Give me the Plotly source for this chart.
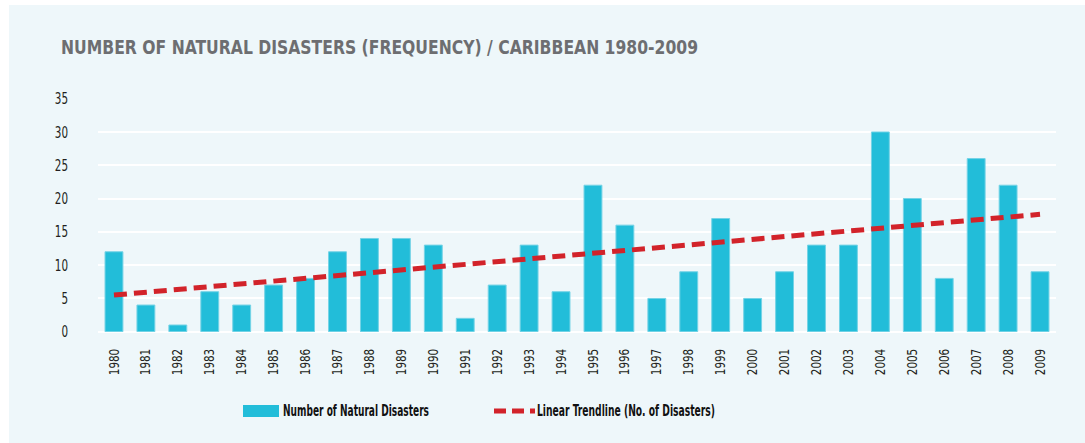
import numpy as np
import plotly.graph_objects as go

# Annual count of natural disasters in the Caribbean
years = [str(y) for y in range(1980, 2010)]
disasters = [12, 4, 1, 6, 4, 7, 8, 12, 14, 14,
             13, 2, 7, 13, 6, 22, 16, 5, 9, 17,
             5, 9, 13, 13, 30, 20, 8, 26, 22, 9]
y_ticks = [0, 5, 10, 15, 20, 25, 30, 35]

title_text = "NUMBER OF NATURAL DISASTERS (FREQUENCY) / CARIBBEAN 1980-2009"
bar_name = "Number of Natural Disasters"
trend_name = "Linear Trendline (No. of Disasters)"

# Least-squares linear trend over the series
idx = np.arange(len(disasters))
slope, intercept = np.polyfit(idx, disasters, 1)
trend = intercept + slope * idx

BAR = "#22bdd9"
RED = "#d2232a"
PANEL = "#eef7fa"
FONT = "DejaVu Sans Condensed, Liberation Sans Narrow, sans-serif"

W, H = 1085, 443
ML, MR, MT, MB = 98, 29, 98, 111
PW, PH = W - ML - MR, H - MT - MB


def px(x):
    return (x - ML) / PW


def py(y):
    return (H - MB - y) / PH


fig = go.Figure()
fig.add_trace(go.Bar(
    x=years, y=disasters, name=bar_name,
    marker=dict(color=BAR, line=dict(color="#74d3e6", width=1)),
    width=0.56, showlegend=False,
))
fig.add_trace(go.Scatter(
    x=years, y=trend, name=trend_name, mode="lines",
    line=dict(color=RED, width=5, dash="13px,7px"),
    showlegend=False,
))

shapes = [
    # panel background
    dict(type="rect", xref="paper", yref="paper", layer="below",
         x0=px(9), x1=px(W + 5), y0=py(H + 5), y1=py(5),
         fillcolor=PANEL, line=dict(width=0)),
    # legend swatch for bars
    dict(type="rect", xref="paper", yref="paper",
         x0=px(243), x1=px(279), y0=py(417), y1=py(405),
         fillcolor=BAR, line=dict(width=0)),
    # legend swatch for trendline
    dict(type="line", xref="paper", yref="paper",
         x0=px(494), x1=px(535), y0=py(411), y1=py(411),
         line=dict(color=RED, width=5, dash="12px,6px")),
]

annotations = [
    dict(text=title_text, xref="paper", yref="paper",
         x=px(59), y=py(47), xanchor="left", yanchor="middle", align="left",
         showarrow=False,
         font=dict(family=FONT, size=20, color="#6d6e71", weight="bold")),
    dict(text=bar_name, xref="paper", yref="paper",
         x=px(281), y=py(411), xanchor="left", yanchor="middle", align="left",
         showarrow=False,
         font=dict(family=FONT, size=15, color="#111111", weight="bold")),
    dict(text=trend_name, xref="paper", yref="paper",
         x=px(535), y=py(411), xanchor="left", yanchor="middle", align="left",
         showarrow=False,
         font=dict(family=FONT, size=15, color="#111111", weight="bold")),
]

fig.update_layout(
    width=W, height=H,
    margin=dict(l=ML, r=MR, t=MT, b=MB),
    paper_bgcolor="white",
    plot_bgcolor="rgba(0,0,0,0)",
    shapes=shapes,
    annotations=annotations,
    showlegend=False,
    bargap=0.44,
    xaxis=dict(
        type="category", range=[-0.5, len(years) - 0.5],
        tickangle=-90, showgrid=False, showline=False, zeroline=False,
        ticks="", ticklabelstandoff=13,
        tickfont=dict(family=FONT, size=14, color="#231f20"),
    ),
    yaxis=dict(
        range=[-0.05, 35.1], tickvals=y_ticks,
        showgrid=True, gridcolor="white", gridwidth=2,
        zeroline=True, zerolinecolor="white", zerolinewidth=2,
        showline=False, ticks="", ticklabelstandoff=29,
        tickfont=dict(family=FONT, size=16, color="#231f20"),
    ),
)

# Condense the title, legend captions and tick labels to a narrow set width
condense_js = """
var gd = document.getElementById('{plot_id}');
function squeeze(t, len) {
  t.setAttribute('textLength', len);
  t.setAttribute('lengthAdjust', 'spacingAndGlyphs');
}
var widths = {0: 637, 1: 146, 2: 178};
gd.querySelectorAll('g.annotation').forEach(function (g) {
  var i = g.getAttribute('data-index');
  var t = g.querySelector('text.annotation-text');
  if (t && widths[i] !== undefined) { squeeze(t, widths[i]); }
});
gd.querySelectorAll('g.xtick text').forEach(function (t) {
  squeeze(t, 6.6 * t.textContent.length);
});
gd.querySelectorAll('g.ytick text').forEach(function (t) {
  squeeze(t, 6.6 * t.textContent.length);
});
"""

fig.write_html("out.html", post_script=condense_js)
